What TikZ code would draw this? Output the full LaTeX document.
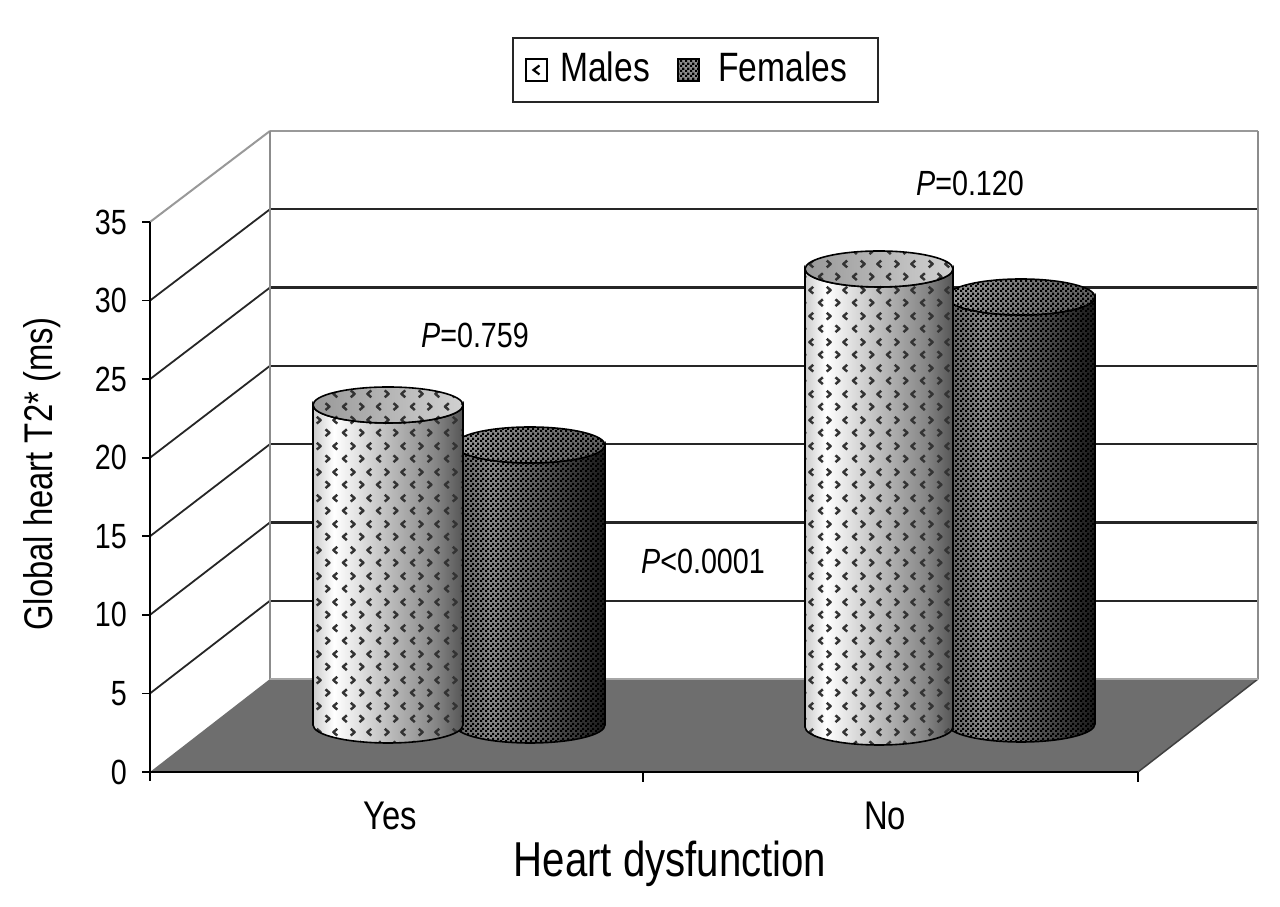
\documentclass[tikz,border=0pt]{standalone}
\usepackage{fontspec}
\setmainfont{Liberation Sans}[FakeStretch=0.82]
\usetikzlibrary{patterns.meta}
\definecolor{mbA}{HTML}{CCCCCC}
\definecolor{mbB}{HTML}{C4C4C4}
\definecolor{mbC}{HTML}{858585}
\definecolor{mbD}{HTML}{555555}
\definecolor{fbA}{HTML}{626262}
\definecolor{fbB}{HTML}{8A8A8A}
\definecolor{fbC}{HTML}{5A5A5A}
\definecolor{fbD}{HTML}{1A1A1A}
\definecolor{floorc}{HTML}{6E6E6E}
\pgfdeclarehorizontalshading{malebody}{100bp}{color(0bp)=(mbA); color(25bp)=(mbA); color(32bp)=(white); color(48bp)=(mbB); color(66bp)=(mbC); color(75bp)=(mbD); color(100bp)=(mbD)}
\pgfdeclarehorizontalshading{femalebody}{100bp}{color(0bp)=(fbA); color(25bp)=(fbA); color(37bp)=(fbB); color(55bp)=(fbC); color(75bp)=(fbD); color(100bp)=(fbD)}
\pgfdeclarehorizontalshading{maletop}{100bp}{color(0bp)=(black!40); color(25bp)=(black!40); color(75bp)=(black!18); color(100bp)=(black!18)}
\pgfdeclarehorizontalshading{femaletop}{100bp}{color(0bp)=(black!40); color(25bp)=(black!40); color(75bp)=(black!62); color(100bp)=(black!62)}
\pgfdeclarepattern{
  name=chev,
  type=uncolored,
  bottom left={\pgfpoint{0pt}{0pt}},
  top right={\pgfpoint{34pt}{26pt}},
  tile size={\pgfpoint{34pt}{26pt}},
  code={
    \pgfsetlinewidth{2.5pt}
    \pgfsetroundjoin
    % row A: < then >
    \pgfpathmoveto{\pgfpoint{7pt}{10pt}}
    \pgfpathlineto{\pgfpoint{3pt}{6.5pt}}
    \pgfpathlineto{\pgfpoint{7pt}{3pt}}
    \pgfpathmoveto{\pgfpoint{20pt}{10pt}}
    \pgfpathlineto{\pgfpoint{24pt}{6.5pt}}
    \pgfpathlineto{\pgfpoint{20pt}{3pt}}
    % row B: > then <
    \pgfpathmoveto{\pgfpoint{11pt}{23pt}}
    \pgfpathlineto{\pgfpoint{15pt}{19.5pt}}
    \pgfpathlineto{\pgfpoint{11pt}{16pt}}
    \pgfpathmoveto{\pgfpoint{32pt}{23pt}}
    \pgfpathlineto{\pgfpoint{28pt}{19.5pt}}
    \pgfpathlineto{\pgfpoint{32pt}{16pt}}
    \pgfusepath{stroke}
  }
}
\pgfdeclarepattern{
  name=checker,
  type=uncolored,
  bottom left={\pgfpoint{0pt}{0pt}},
  top right={\pgfpoint{5pt}{5pt}},
  tile size={\pgfpoint{5pt}{5pt}},
  code={
    \pgfpathrectangle{\pgfpoint{0pt}{0pt}}{\pgfpoint{2.5pt}{2.5pt}}
    \pgfpathrectangle{\pgfpoint{2.5pt}{2.5pt}}{\pgfpoint{2.5pt}{2.5pt}}
    \pgfusepath{fill}
  }
}
% cylinder: cx, rx, ytop, ybot, ry, body style, top style
\newcommand\mycyl[7]{%
  \path[#6] ({#1-#2},#3) -- ({#1-#2},#4)
    arc[start angle=180,end angle=360,x radius=#2pt,y radius=#5pt]
    -- ({#1+#2},#3)
    arc[start angle=0,end angle=-180,x radius=#2pt,y radius=#5pt] -- cycle;
  \path[#7] (#1,#3) ellipse[x radius=#2pt, y radius=#5pt];
}
\begin{document}
\begin{tikzpicture}[x=1pt,y=1pt,
  gridl/.style={line width=2.4pt, draw=black!85},
  gridtop/.style={line width=2pt, draw=black!40},
  wallv/.style={line width=2pt, draw=black!45},
  axline/.style={line width=2.2pt, draw=black},
  axtick/.style={line width=1.8pt, draw=black},
  ylab/.style={font=\fontsize{35}{40}\selectfont, inner sep=0pt, anchor=east},
  catlab/.style={font=\fontsize{40}{46}\selectfont, inner sep=0pt, anchor=base},
  plab/.style={font=\fontsize{35}{40}\selectfont, inner sep=0pt, anchor=base},
  legtext/.style={font=\fontsize{41}{46}\selectfont, inner sep=0pt, anchor=base west},
  mbody/.style={shade, shading=malebody, postaction={pattern=chev, pattern color=black!80}, postaction={draw=black, line width=1.6pt}},
  mtop/.style={shade, shading=maletop, postaction={pattern=chev, pattern color=black!80}, postaction={draw=black, line width=1.6pt}},
  fbody/.style={shade, shading=femalebody, postaction={pattern=checker, pattern color=black}, postaction={draw=black, line width=1.6pt}},
  ftop/.style={shade, shading=femaletop, postaction={pattern=checker, pattern color=black}, postaction={draw=black, line width=1.6pt}}
]
\useasboundingbox (0,0) rectangle (1280,907);
\fill[white] (0,0) rectangle (1280,907);

% legend
\draw[line width=2.6pt, draw=black!85] (513,805) rectangle (878,869);
\draw[line width=2.2pt, fill=white] (526,826) rectangle (547,848);
\draw[line width=2.2pt] (539.5,841.5) -- (533.5,837) -- (539.5,832.5);
\path[fill=black!45, postaction={pattern=checker, pattern color=black}, postaction={draw=black, line width=2.2pt}] (678,826) rectangle (699,848);
\node[legtext] (lmales) at (560,825) {Males};
\node[legtext] (lfemales) at (718,825) {Females};

% walls
\foreach \k in {1,...,6} {
  \draw[gridl] (270,{228+\k*78.29}) -- (1258,{228+\k*78.29});
  \draw[gridl, line width=1.8pt] (150,{135+\k*78.57}) -- (270,{228+\k*78.29});
}
\draw[gridtop] (270,776) -- (1258,776);
\draw[gridtop] (150,685) -- (270,776);
\draw[wallv] (270,228) -- (270,776);
\draw[wallv] (1258,228) -- (1258,776);

% floor
\fill[floorc] (150,135) -- (270,228) -- (1258,228) -- (1138,135) -- cycle;
\draw[line width=1.5pt, black!75] (1138,135) -- (1258,228);
\draw[line width=1.2pt, black!35] (270,228) -- (1258,228);

% cylinders
\mycyl{530}{75}{462}{182}{18}{fbody}{ftop}
\mycyl{388}{75}{502}{182}{18}{mbody}{mtop}
\mycyl{1021}{74}{610}{183}{18}{fbody}{ftop}
\mycyl{879}{74}{638}{180}{18}{mbody}{mtop}

% axes
\draw[axline] (150,126) -- (150,685);
\draw[axline, line width=2.6pt] (150,135) -- (1138,135);
\foreach \k in {0,...,7} {
  \draw[axtick] (142,{135+\k*78.57}) -- (150,{135+\k*78.57});
}
\draw[axtick] (643,135) -- (643,125);
\draw[axtick] (1138,135) -- (1138,125);

% y labels
\node[ylab] (y0) at (127,135) {0};
\node[ylab] (y5) at (127,213.6) {5};
\node[ylab] (y10) at (127,292.1) {10};
\node[ylab] (y15) at (127,370.7) {15};
\node[ylab] (y20) at (127,449.3) {20};
\node[ylab] (y25) at (127,527.9) {25};
\node[ylab] (y30) at (127,606.4) {30};
\node[ylab] (y35) at (127,685) {35};

\node[rotate=90, anchor=base, inner sep=0pt, font=\fontsize{40}{46}\selectfont] (ytitle) at (53,433) {Global heart T2* (ms)};

% category labels
\node[catlab] (yes) at (390,77) {Yes};
\node[catlab] (no) at (885,77) {No};
\node[anchor=base, inner sep=0pt, font=\fontsize{49}{56}\selectfont] (xtitle) at (670,30) {Heart dysfunction};

% p values
\node[plab] (p1) at (475,559) {\textit{P}=0.759};
\node[plab] (p2) at (703,333) {\textit{P}<0.0001};
\node[plab] (p3) at (970,711) {\textit{P}=0.120};
\end{tikzpicture}
\end{document}
